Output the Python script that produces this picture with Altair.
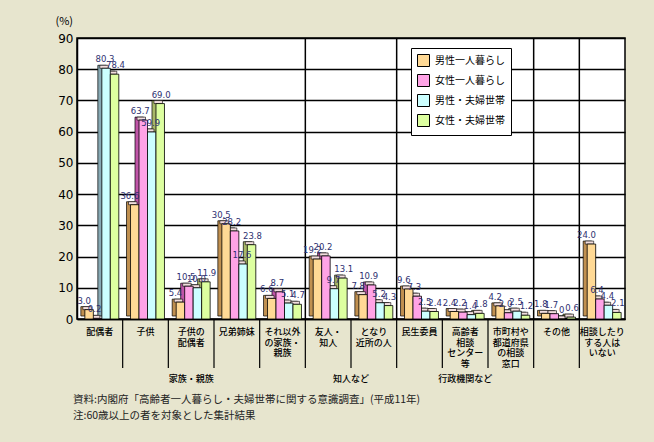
import altair as alt
import pandas as pd

# ---- data ----
categories = ["配偶者", "子供", "子供の配偶者", "兄弟姉妹", "それ以外の家族・親族",
              "友人・知人", "となり近所の人", "民生委員", "高齢者相談センター等",
              "市町村や都道府県の相談窓口", "その他", "相談したりする人はいない"]
cat_labels = ["配偶者", "子供", "子供の\n配偶者", "兄弟姉妹", "それ以外\nの家族・\n親族",
              "友人・\n知人", "となり\n近所の人", "民生委員", "高齢者\n相談\nセンター\n等",
              "市町村や\n都道府県\nの相談\n窓口", "その他", "相談したり\nする人は\nいない"]
series = ["男性一人暮らし", "女性一人暮らし", "男性・夫婦世帯", "女性・夫婦世帯"]
male_single   = [3.0, 36.6, 5.4, 30.5, 6.6, 19.2, 7.8, 9.6, 2.4, 4.2, 1.8, 24.0]
female_single = [0.2, 63.7, 10.5, 28.2, 8.7, 20.2, 10.9, 7.3, 2.2, 2.0, 1.7, 6.4]
male_couple   = [80.3, 59.9, 10.0, 17.6, 5.1, 9.7, 5.2, 2.5, 1.4, 2.5, 0.0, 4.4]
female_couple = [78.4, 69.0, 11.9, 23.8, 4.7, 13.1, 4.3, 2.4, 1.8, 1.2, 0.6, 2.1]
groups = ["家族・親族", "知人など", "行政機関など"]
group_anchor = ["子供の配偶者", "となり近所の人", "高齢者相談センター等"]
group_sep = ["友人・知人", "民生委員", "その他", "相談したりする人はいない"]
front_colors = ["#FFD995", "#FFA3E6", "#CCFFFF", "#DDFFA0"]
side_colors = ["#C09050", "#C055A8", "#88AAB4", "#A8B868"]
top_color = "#F2DEDE"
source_line1 = "資料:内閣府「高齢者一人暮らし・夫婦世帯に関する意識調査」(平成11年)"
source_line2 = "注:60歳以上の者を対象とした集計結果"

rows = []
for s, vals, fc, sc in zip(series, [male_single, female_single, male_couple, female_couple],
                           front_colors, side_colors):
    for c, v in zip(categories, vals):
        rows.append({"cat": c, "series": s, "v": v, "side": sc, "front": fc})
df = pd.DataFrame(rows)

W, H = 548, 281
BAND = W / len(categories)
JP = "Noto Sans CJK JP"

xenc = alt.X("cat:N", sort=categories,
             scale=alt.Scale(paddingInner=0, paddingOuter=0),
             axis=alt.Axis(labels=False, ticks=False, title=None, domainColor="black",
                           domainWidth=1.5, grid=False))


def xoff(shift):
    return alt.XOffset("series:N", sort=series,
                       scale=alt.Scale(paddingInner=0, paddingOuter=0.69,
                                       range=[shift, BAND + shift]))


yenc = alt.Y("v:Q", scale=alt.Scale(domain=[0, 90]),
             axis=alt.Axis(values=list(range(0, 91, 10)), title=None, ticks=False,
                           labelPadding=4, labelFont="DejaVu Sans", labelFontSize=12,
                           labelColor="black", grid=True, gridColor="black",
                           gridWidth=1.3, domainColor="black", domainWidth=1.5))

base = alt.Chart(df)

back_side = base.mark_bar(yOffset=-3, stroke="black", strokeWidth=0.7).encode(
    x=xenc, xOffset=xoff(-2), y=yenc, color=alt.Color("side:N", scale=None))
back_top = base.mark_bar(yOffset=-3, stroke="black", strokeWidth=0.6).encode(
    x=xenc, xOffset=xoff(0), y=yenc, y2="v:Q", color=alt.value(top_color))
front = base.mark_bar(stroke="black", strokeWidth=0.8).encode(
    x=xenc, xOffset=xoff(2), y=yenc,
    color=alt.Color("series:N", sort=series,
                    scale=alt.Scale(domain=series, range=front_colors),
                    legend=alt.Legend(title=None, orient="none", legendX=334, legendY=10,
                                      fillColor="white", strokeColor="black",
                                      padding=6, symbolType="square", symbolSize=144,
                                      symbolStrokeColor="black", symbolStrokeWidth=1,
                                      labelFont=JP, labelFontSize=10, labelColor="black",
                                      rowPadding=3, labelOffset=5)))
vlabels = base.transform_calculate(
    lab="datum.v == 0 ? '0' : format(datum.v, '.1f')").mark_text(
    baseline="bottom", dy=-4, font="DejaVu Sans", fontSize=8.5, color="#2E3070").encode(
    x=xenc, xOffset=xoff(0), y=yenc, text="lab:N")

# vertical group separators inside the plot
sep_df = pd.DataFrame({"cat": group_sep})
seps = alt.Chart(sep_df).mark_rule(color="black", strokeWidth=1.5).encode(
    x=alt.X("cat:N", sort=categories, bandPosition=0),
    y=alt.value(0), y2=alt.value(H))

# category separators below the axis
below_df = pd.DataFrame({"cat": categories[1:]})
below = alt.Chart(below_df).mark_rule(color="black", strokeWidth=1.2).encode(
    x=alt.X("cat:N", sort=categories, bandPosition=0),
    y=alt.value(H), y2=alt.value(H + 49))

# category labels
lab_df = pd.DataFrame({"cat": categories, "lab": cat_labels})
cat_text = alt.Chart(lab_df).mark_text(
    baseline="top", align="center", font=JP, fontSize=9, fontWeight=500, lineBreak="\n",
    lineHeight=10.7, color="black").encode(
    x=alt.X("cat:N", sort=categories), y=alt.value(H + 9), text="lab:N")

# group labels
g_df = pd.DataFrame({"cat": group_anchor, "g": groups})
g_center = alt.Chart(g_df).transform_filter(alt.datum.g != "知人など").mark_text(
    baseline="middle", font=JP, fontSize=9, fontWeight=500, color="black").encode(
    x=alt.X("cat:N", sort=categories), y=alt.value(H + 60), text="g:N")
g_edge = alt.Chart(g_df).transform_filter(alt.datum.g == "知人など").mark_text(
    baseline="middle", font=JP, fontSize=9, fontWeight=500, color="black").encode(
    x=alt.X("cat:N", sort=categories, bandPosition=0), y=alt.value(H + 60), text="g:N")

# unit label
unit = alt.Chart(pd.DataFrame({"t": ["(%)"]})).mark_text(
    font=JP, fontSize=11, align="right", baseline="middle", color="black").encode(
    x=alt.value(-4), y=alt.value(-16), text="t:N")

# source notes
src1 = alt.Chart(pd.DataFrame({"t": [source_line1]})).mark_text(
    font=JP, fontSize=10.5, align="left", baseline="middle", color="#222222").encode(
    x=alt.value(-4), y=alt.value(H + 81), text="t:N")
src2 = alt.Chart(pd.DataFrame({"t": [source_line2]})).mark_text(
    font=JP, fontSize=10.5, align="left", baseline="middle", color="#222222").encode(
    x=alt.value(-4), y=alt.value(H + 97), text="t:N")

chart = alt.layer(seps, back_side, back_top, front, vlabels, below, cat_text,
                  g_center, g_edge, unit, src1, src2).resolve_scale(
    xOffset="independent").properties(
    width=W, height=H,
    autosize=alt.AutoSizeParams(type="none"),
    padding={"left": 77, "top": 38, "right": 29, "bottom": 123},
    background="#E7E5CE",
).configure_view(fill="white", stroke="black", strokeWidth=1.5)

chart.save("out.html", embed_options={"renderer": "svg", "actions": False})
